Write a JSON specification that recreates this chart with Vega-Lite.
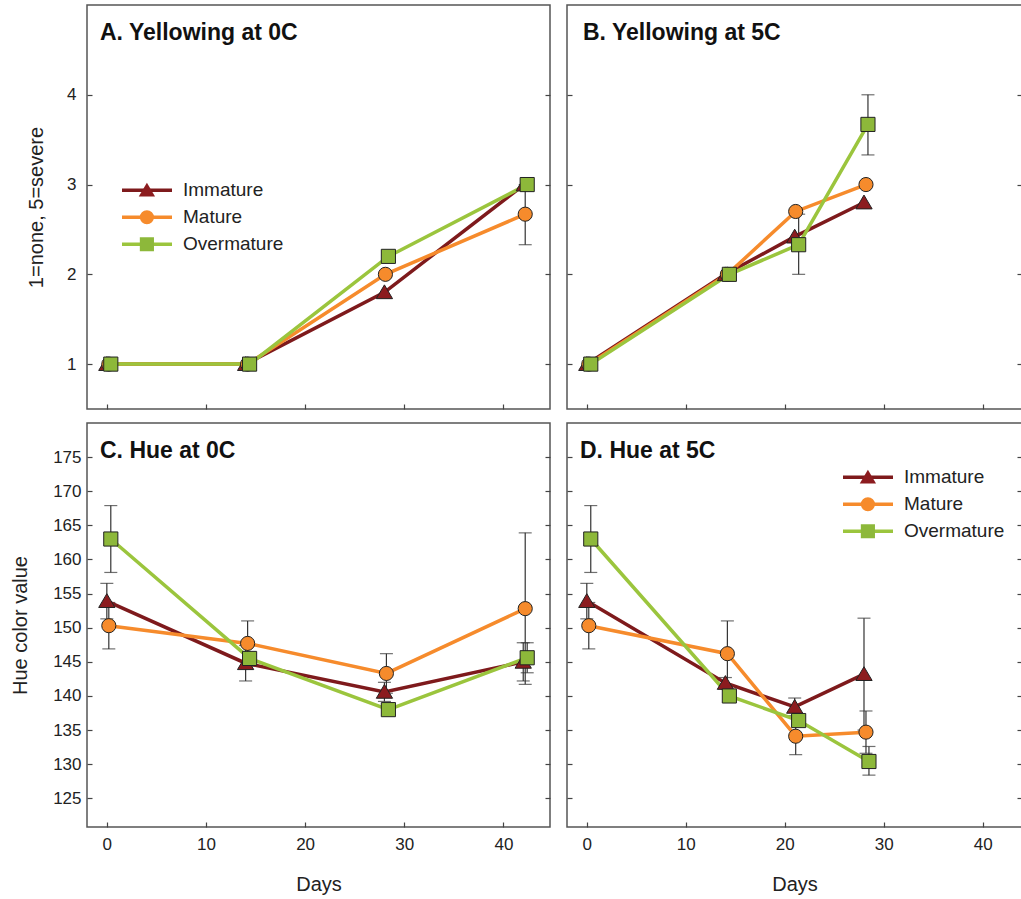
{
  "$schema": "https://vega.github.io/schema/vega-lite/v6.json",
  "padding": {"left": 9, "top": 4, "right": 0, "bottom": 0},
  "background": "white",
  "config": {
    "font": "Liberation Sans",
    "view": {"stroke": "#555", "strokeWidth": 1.5},
    "axis": {"grid": false, "domain": false, "tickColor": "#444", "tickWidth": 1.2, "labelFontSize": 17, "labelColor": "#222", "titleFontSize": 20, "titleFontWeight": "normal", "titleColor": "#222"},
    "legend": {"labelFontSize": 19, "labelColor": "#222"},
    "title": {"fontSize": 23, "fontWeight": "bold", "color": "#111", "anchor": "start", "frame": "group", "offset": -40, "dx": 13}
  },
  "datasets": {
    "yel": [
      {"panel": "A", "series": "Immature", "day": 0, "value": 1},
      {"panel": "A", "series": "Immature", "day": 14, "value": 1},
      {"panel": "A", "series": "Immature", "day": 28, "value": 1.8},
      {"panel": "A", "series": "Immature", "day": 42.1, "value": 3.0},
      {"panel": "A", "series": "Mature", "day": 0.2, "value": 1},
      {"panel": "A", "series": "Mature", "day": 14.2, "value": 1},
      {"panel": "A", "series": "Mature", "day": 28.1, "value": 2.0},
      {"panel": "A", "series": "Mature", "day": 42.2, "value": 2.67, "lo": 2.33, "hi": 3.0},
      {"panel": "A", "series": "Overmature", "day": 0.4, "value": 1},
      {"panel": "A", "series": "Overmature", "day": 14.4, "value": 1},
      {"panel": "A", "series": "Overmature", "day": 28.4, "value": 2.2},
      {"panel": "A", "series": "Overmature", "day": 42.4, "value": 3.0},
      {"panel": "B", "series": "Immature", "day": 0, "value": 1},
      {"panel": "B", "series": "Immature", "day": 14, "value": 2},
      {"panel": "B", "series": "Immature", "day": 21, "value": 2.42},
      {"panel": "B", "series": "Immature", "day": 28, "value": 2.8},
      {"panel": "B", "series": "Mature", "day": 0.2, "value": 1},
      {"panel": "B", "series": "Mature", "day": 14.2, "value": 2},
      {"panel": "B", "series": "Mature", "day": 21.1, "value": 2.7},
      {"panel": "B", "series": "Mature", "day": 28.2, "value": 3.0},
      {"panel": "B", "series": "Overmature", "day": 0.4, "value": 1},
      {"panel": "B", "series": "Overmature", "day": 14.4, "value": 2},
      {"panel": "B", "series": "Overmature", "day": 21.4, "value": 2.33, "lo": 2.0, "hi": 2.67},
      {"panel": "B", "series": "Overmature", "day": 28.4, "value": 3.67, "lo": 3.33, "hi": 4.0}
    ],
    "hue": [
      {"panel": "C", "series": "Immature", "day": 0, "value": 153.9, "lo": 151.3, "hi": 156.5},
      {"panel": "C", "series": "Immature", "day": 14, "value": 144.8, "lo": 142.2, "hi": 147.4},
      {"panel": "C", "series": "Immature", "day": 28, "value": 140.6, "lo": 139.2, "hi": 142.0},
      {"panel": "C", "series": "Immature", "day": 42, "value": 145.0, "lo": 142.2, "hi": 147.8},
      {"panel": "C", "series": "Mature", "day": 0.2, "value": 150.3, "lo": 146.9, "hi": 153.7},
      {"panel": "C", "series": "Mature", "day": 14.2, "value": 147.7, "lo": 144.4, "hi": 151.0},
      {"panel": "C", "series": "Mature", "day": 28.2, "value": 143.3, "lo": 140.4, "hi": 146.2},
      {"panel": "C", "series": "Mature", "day": 42.2, "value": 152.8, "lo": 141.7, "hi": 163.9},
      {"panel": "C", "series": "Overmature", "day": 0.4, "value": 163.0, "lo": 158.1, "hi": 167.9},
      {"panel": "C", "series": "Overmature", "day": 14.4, "value": 145.5},
      {"panel": "C", "series": "Overmature", "day": 28.4, "value": 138.0},
      {"panel": "C", "series": "Overmature", "day": 42.4, "value": 145.6, "lo": 143.4, "hi": 147.8},
      {"panel": "D", "series": "Immature", "day": 0, "value": 153.9, "lo": 151.3, "hi": 156.5},
      {"panel": "D", "series": "Immature", "day": 14, "value": 141.9, "lo": 141.1, "hi": 142.7},
      {"panel": "D", "series": "Immature", "day": 21, "value": 138.4, "lo": 137.1, "hi": 139.7},
      {"panel": "D", "series": "Immature", "day": 28, "value": 143.2, "lo": 135.0, "hi": 151.4},
      {"panel": "D", "series": "Mature", "day": 0.2, "value": 150.3, "lo": 146.9, "hi": 153.7},
      {"panel": "D", "series": "Mature", "day": 14.2, "value": 146.2, "lo": 141.4, "hi": 151.0},
      {"panel": "D", "series": "Mature", "day": 21.1, "value": 134.1, "lo": 131.4, "hi": 136.8},
      {"panel": "D", "series": "Mature", "day": 28.2, "value": 134.7, "lo": 131.6, "hi": 137.8},
      {"panel": "D", "series": "Overmature", "day": 0.4, "value": 163.0, "lo": 158.1, "hi": 167.9},
      {"panel": "D", "series": "Overmature", "day": 14.4, "value": 140.0},
      {"panel": "D", "series": "Overmature", "day": 21.4, "value": 136.4},
      {"panel": "D", "series": "Overmature", "day": 28.5, "value": 130.4, "lo": 128.4, "hi": 132.6}
    ]
  },
  "columns": 2,
  "spacing": {"row": 11, "column": 13},
  "resolve": {
    "scale": {"x": "independent", "y": "independent", "stroke": "shared", "fill": "shared", "shape": "shared"},
    "legend": {"stroke": "independent", "fill": "independent", "shape": "independent"}
  },
  "concat": [
    {
      "width": 463, "height": 404,
      "title": {"text": "A. Yellowing at 0C"},
      "data": {"name": "yel"},
      "transform": [{"filter": "datum.panel === 'A'"}],
      "encoding": {
        "x": {"field": "day", "type": "quantitative", "scale": {"domain": [-2, 44.7], "nice": false, "zero": false},
              "axis": {"values": [0, 10, 20, 30, 40], "labels": false, "tickSize": -5, "title": null}}
      },
      "resolve": {"axis": {"y": "independent"}},
      "layer": [
        {"transform": [{"filter": "datum.lo != null"}], "mark": {"type": "rule", "color": "#333", "strokeWidth": 1.2},
         "encoding": {"y": {"field": "lo", "type": "quantitative", "scale": {"domain": [0.5, 5], "nice": false, "zero": false},
                            "axis": {"orient": "left", "values": [1, 2, 3, 4], "tickSize": -5, "labelPadding": 16, "title": "1=none, 5=severe", "titlePadding": 20}},
                      "y2": {"field": "hi"}}},
        {"transform": [{"filter": "datum.lo != null"}], "mark": {"type": "tick", "orient": "horizontal", "size": 13, "thickness": 1.2, "color": "#333"},
         "encoding": {"y": {"field": "lo", "type": "quantitative", "scale": {"domain": [0.5, 5], "nice": false, "zero": false}, "axis": null}}},
        {"transform": [{"filter": "datum.lo != null"}], "mark": {"type": "tick", "orient": "horizontal", "size": 13, "thickness": 1.2, "color": "#333"},
         "encoding": {"y": {"field": "hi", "type": "quantitative", "scale": {"domain": [0.5, 5], "nice": false, "zero": false}, "axis": null}}},
        {"mark": {"type": "line", "strokeWidth": 3.5},
         "encoding": {"y": {"field": "value", "type": "quantitative", "scale": {"domain": [0.5, 5], "nice": false, "zero": false}, "axis": null},
                      "order": {"field": "day", "type": "quantitative"},
                      "stroke": {"field": "series", "type": "nominal",
                                 "scale": {"domain": ["Immature", "Mature", "Overmature"], "range": ["#7E1A1C", "#F68B2C", "#9BC53D"]},
                                 "legend": {"orient": "none", "legendX": 33, "legendY": 172, "title": null, "symbolType": "stroke", "symbolSize": 2500, "symbolStrokeWidth": 3.5, "labelOffset": 9, "clipHeight": 26.5, "rowPadding": 0, "padding": 0}}}},
        {"mark": {"type": "point", "filled": true, "size": 200, "stroke": "#222", "strokeWidth": 1, "opacity": 1},
         "encoding": {"y": {"field": "value", "type": "quantitative", "scale": {"domain": [0.5, 5], "nice": false, "zero": false},
                            "axis": {"orient": "right", "values": [1, 2, 3, 4], "labels": false, "tickSize": -5, "title": null}},
                      "shape": {"field": "series", "type": "nominal", "scale": {"range": ["M0,-1.05L1.15,0.9L-1.15,0.9Z", "circle", "square"]},
                                "legend": {"orient": "none", "legendX": 50.4, "legendY": 172, "title": null, "symbolSize": 200, "symbolStrokeColor": "#222", "symbolStrokeWidth": 1, "labelExpr": "''", "labelOpacity": 0, "clipHeight": 26.5, "rowPadding": 0, "padding": 0}},
                      "fill": {"field": "series", "type": "nominal", "scale": {"range": ["#8C1C1F", "#F68B2C", "#8DB83A"]},
                               "legend": {"orient": "none", "legendX": 50.4, "legendY": 172, "title": null, "symbolSize": 200, "symbolStrokeColor": "#222", "symbolStrokeWidth": 1, "labelExpr": "''", "labelOpacity": 0, "clipHeight": 26.5, "rowPadding": 0, "padding": 0}}}}
      ]
    },
    {
      "width": 455, "height": 404,
      "title": {"text": "B. Yellowing at 5C", "dx": 16},
      "data": {"name": "yel"},
      "transform": [{"filter": "datum.panel === 'B'"}],
      "encoding": {
        "x": {"field": "day", "type": "quantitative", "scale": {"domain": [-2, 43.96], "nice": false, "zero": false},
              "axis": {"values": [0, 10, 20, 30, 40], "labels": false, "tickSize": -5, "title": null}}
      },
      "resolve": {"axis": {"y": "independent"}},
      "layer": [
        {"transform": [{"filter": "datum.lo != null"}], "mark": {"type": "rule", "color": "#333", "strokeWidth": 1.2},
         "encoding": {"y": {"field": "lo", "type": "quantitative", "scale": {"domain": [0.5, 5], "nice": false, "zero": false},
                            "axis": {"orient": "left", "values": [1, 2, 3, 4], "tickSize": -5, "labels": false, "title": null}},
                      "y2": {"field": "hi"}}},
        {"transform": [{"filter": "datum.lo != null"}], "mark": {"type": "tick", "orient": "horizontal", "size": 13, "thickness": 1.2, "color": "#333"},
         "encoding": {"y": {"field": "lo", "type": "quantitative", "scale": {"domain": [0.5, 5], "nice": false, "zero": false}, "axis": null}}},
        {"transform": [{"filter": "datum.lo != null"}], "mark": {"type": "tick", "orient": "horizontal", "size": 13, "thickness": 1.2, "color": "#333"},
         "encoding": {"y": {"field": "hi", "type": "quantitative", "scale": {"domain": [0.5, 5], "nice": false, "zero": false}, "axis": null}}},
        {"mark": {"type": "line", "strokeWidth": 3.5},
         "encoding": {"y": {"field": "value", "type": "quantitative", "scale": {"domain": [0.5, 5], "nice": false, "zero": false}, "axis": null},
                      "order": {"field": "day", "type": "quantitative"},
                      "stroke": {"field": "series", "type": "nominal",
                                 "scale": {"domain": ["Immature", "Mature", "Overmature"], "range": ["#7E1A1C", "#F68B2C", "#9BC53D"]}, "legend": null}}},
        {"mark": {"type": "point", "filled": true, "size": 200, "stroke": "#222", "strokeWidth": 1, "opacity": 1},
         "encoding": {"y": {"field": "value", "type": "quantitative", "scale": {"domain": [0.5, 5], "nice": false, "zero": false},
                            "axis": {"orient": "right", "values": [1, 2, 3, 4], "labels": false, "tickSize": -5, "title": null}},
                      "shape": {"field": "series", "type": "nominal", "scale": {"range": ["M0,-1.05L1.15,0.9L-1.15,0.9Z", "circle", "square"]}, "legend": null},
                      "fill": {"field": "series", "type": "nominal", "scale": {"range": ["#8C1C1F", "#F68B2C", "#8DB83A"]}, "legend": null}}}
      ]
    },
    {
      "width": 463, "height": 404,
      "title": {"text": "C. Hue at 0C"},
      "data": {"name": "hue"},
      "transform": [{"filter": "datum.panel === 'C'"}],
      "encoding": {
        "x": {"field": "day", "type": "quantitative", "scale": {"domain": [-2, 44.7], "nice": false, "zero": false},
              "axis": {"values": [0, 10, 20, 30, 40], "tickSize": -5, "labelPadding": 14.5, "title": "Days", "titlePadding": 22}}
      },
      "resolve": {"axis": {"y": "independent"}},
      "layer": [
        {"transform": [{"filter": "datum.lo != null"}], "mark": {"type": "rule", "color": "#333", "strokeWidth": 1.2},
         "encoding": {"y": {"field": "lo", "type": "quantitative", "scale": {"domain": [120.8, 180], "nice": false, "zero": false},
                            "axis": {"orient": "left", "values": [125, 130, 135, 140, 145, 150, 155, 160, 165, 170, 175], "tickSize": -5, "labelPadding": 11, "title": "Hue color value", "titlePadding": 22}},
                      "y2": {"field": "hi"}}},
        {"transform": [{"filter": "datum.lo != null"}], "mark": {"type": "tick", "orient": "horizontal", "size": 13, "thickness": 1.2, "color": "#333"},
         "encoding": {"y": {"field": "lo", "type": "quantitative", "scale": {"domain": [120.8, 180], "nice": false, "zero": false}, "axis": null}}},
        {"transform": [{"filter": "datum.lo != null"}], "mark": {"type": "tick", "orient": "horizontal", "size": 13, "thickness": 1.2, "color": "#333"},
         "encoding": {"y": {"field": "hi", "type": "quantitative", "scale": {"domain": [120.8, 180], "nice": false, "zero": false}, "axis": null}}},
        {"mark": {"type": "line", "strokeWidth": 3.5},
         "encoding": {"y": {"field": "value", "type": "quantitative", "scale": {"domain": [120.8, 180], "nice": false, "zero": false}, "axis": null},
                      "order": {"field": "day", "type": "quantitative"},
                      "stroke": {"field": "series", "type": "nominal",
                                 "scale": {"domain": ["Immature", "Mature", "Overmature"], "range": ["#7E1A1C", "#F68B2C", "#9BC53D"]}, "legend": null}}},
        {"mark": {"type": "point", "filled": true, "size": 200, "stroke": "#222", "strokeWidth": 1, "opacity": 1},
         "encoding": {"y": {"field": "value", "type": "quantitative", "scale": {"domain": [120.8, 180], "nice": false, "zero": false},
                            "axis": {"orient": "right", "values": [125, 130, 135, 140, 145, 150, 155, 160, 165, 170, 175], "labels": false, "tickSize": -5, "title": null}},
                      "shape": {"field": "series", "type": "nominal", "scale": {"range": ["M0,-1.05L1.15,0.9L-1.15,0.9Z", "circle", "square"]}, "legend": null},
                      "fill": {"field": "series", "type": "nominal", "scale": {"range": ["#8C1C1F", "#F68B2C", "#8DB83A"]}, "legend": null}}}
      ]
    },
    {
      "width": 455, "height": 404,
      "title": {"text": "D. Hue at 5C"},
      "data": {"name": "hue"},
      "transform": [{"filter": "datum.panel === 'D'"}],
      "encoding": {
        "x": {"field": "day", "type": "quantitative", "scale": {"domain": [-2, 43.96], "nice": false, "zero": false},
              "axis": {"values": [0, 10, 20, 30, 40], "tickSize": -5, "labelPadding": 14.5, "title": "Days", "titlePadding": 22}}
      },
      "resolve": {"axis": {"y": "independent"}},
      "layer": [
        {"transform": [{"filter": "datum.lo != null"}], "mark": {"type": "rule", "color": "#333", "strokeWidth": 1.2},
         "encoding": {"y": {"field": "lo", "type": "quantitative", "scale": {"domain": [120.8, 180], "nice": false, "zero": false},
                            "axis": {"orient": "left", "values": [125, 130, 135, 140, 145, 150, 155, 160, 165, 170, 175], "tickSize": -5, "labels": false, "title": null}},
                      "y2": {"field": "hi"}}},
        {"transform": [{"filter": "datum.lo != null"}], "mark": {"type": "tick", "orient": "horizontal", "size": 13, "thickness": 1.2, "color": "#333"},
         "encoding": {"y": {"field": "lo", "type": "quantitative", "scale": {"domain": [120.8, 180], "nice": false, "zero": false}, "axis": null}}},
        {"transform": [{"filter": "datum.lo != null"}], "mark": {"type": "tick", "orient": "horizontal", "size": 13, "thickness": 1.2, "color": "#333"},
         "encoding": {"y": {"field": "hi", "type": "quantitative", "scale": {"domain": [120.8, 180], "nice": false, "zero": false}, "axis": null}}},
        {"mark": {"type": "line", "strokeWidth": 3.5},
         "encoding": {"y": {"field": "value", "type": "quantitative", "scale": {"domain": [120.8, 180], "nice": false, "zero": false}, "axis": null},
                      "order": {"field": "day", "type": "quantitative"},
                      "stroke": {"field": "series", "type": "nominal",
                                 "scale": {"domain": ["Immature", "Mature", "Overmature"], "range": ["#7E1A1C", "#F68B2C", "#9BC53D"]},
                                 "legend": {"orient": "none", "legendX": 274, "legendY": 41, "title": null, "symbolType": "stroke", "symbolSize": 2500, "symbolStrokeWidth": 3.5, "labelOffset": 9, "clipHeight": 26.5, "rowPadding": 0, "padding": 0}}}},
        {"mark": {"type": "point", "filled": true, "size": 200, "stroke": "#222", "strokeWidth": 1, "opacity": 1},
         "encoding": {"y": {"field": "value", "type": "quantitative", "scale": {"domain": [120.8, 180], "nice": false, "zero": false},
                            "axis": {"orient": "right", "values": [125, 130, 135, 140, 145, 150, 155, 160, 165, 170, 175], "labels": false, "tickSize": -5, "title": null}},
                      "shape": {"field": "series", "type": "nominal", "scale": {"range": ["M0,-1.05L1.15,0.9L-1.15,0.9Z", "circle", "square"]},
                                "legend": {"orient": "none", "legendX": 291.4, "legendY": 41, "title": null, "symbolSize": 200, "symbolStrokeColor": "#222", "symbolStrokeWidth": 1, "labelExpr": "''", "labelOpacity": 0, "clipHeight": 26.5, "rowPadding": 0, "padding": 0}},
                      "fill": {"field": "series", "type": "nominal", "scale": {"range": ["#8C1C1F", "#F68B2C", "#8DB83A"]},
                               "legend": {"orient": "none", "legendX": 291.4, "legendY": 41, "title": null, "symbolSize": 200, "symbolStrokeColor": "#222", "symbolStrokeWidth": 1, "labelExpr": "''", "labelOpacity": 0, "clipHeight": 26.5, "rowPadding": 0, "padding": 0}}}}
      ]
    }
  ]
}
